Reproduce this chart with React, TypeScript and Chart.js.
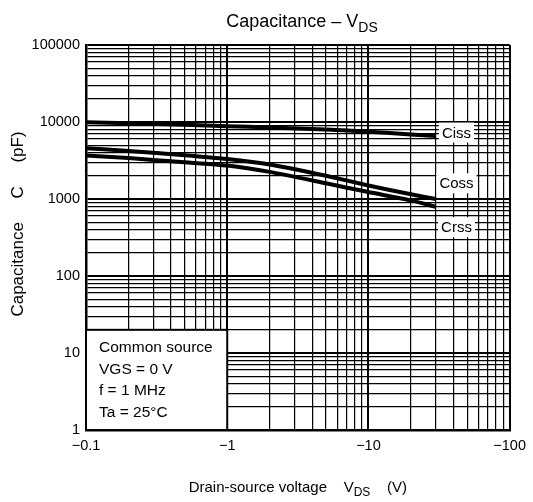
import React, { useEffect, useRef } from "react";
import { Chart, registerables } from "chart.js";

Chart.register(...registerables);

// ---- data ----
const vds = [0.1, 0.2, 0.5, 1, 2, 5, 10, 20, 30];
const ciss = [9900, 9600, 9200, 8800, 8500, 8000, 7450, 6900, 6600];
const coss = [4560, 4200, 3700, 3300, 2800, 2000, 1500, 1150, 1000];
const crss = [3680, 3400, 3000, 2720, 2250, 1600, 1230, 960, 790];
const seriesNames = ["Ciss", "Coss", "Crss"];
const seriesLabelV = [42, 42, 42];
const seriesLabelC = [7300, 1600, 430];

const xTickValues = [0.1, 1, 10, 100];
const xTickLabels = ["\u22120.1", "\u22121", "\u221210", "\u2212100"];
const yTickValues = [1, 10, 100, 1000, 10000, 100000];
const yTickLabels = ["1", "10", "100", "1000", "10000", "100000"];

const conditions = ["Common source", "VGS = 0 V", "f = 1 MHz", "Ta = 25\u00b0C"];
const conditionBox = { v0: 0.1, v1: 1, c0: 1, c1: 20 };

const FONT = "'Liberation Sans', Arial, Helvetica, sans-serif";

function logGrid(min: number, max: number) {
  const out: number[] = [];
  for (let e = Math.round(Math.log10(min)); e < Math.round(Math.log10(max)); e++) {
    for (let m = 1; m <= 9; m++) out.push(m * Math.pow(10, e));
  }
  out.push(max);
  return out;
}
const isDecade = (v: number) => Math.abs(Math.log10(v) - Math.round(Math.log10(v))) < 1e-6;

function labelFor(values: number[], labels: string[], v: number) {
  const i = values.findIndex((t) => Math.abs(t - v) / t < 1e-6);
  return i >= 0 ? labels[i] : "";
}

const annotPlugin = {
  id: "annot",
  afterDatasetsDraw(chart: any) {
    const ctx = chart.ctx as CanvasRenderingContext2D;
    const xs = chart.scales.x;
    const ys = chart.scales.y;
    ctx.save();
    ctx.font = `15px ${FONT}`;
    ctx.textBaseline = "middle";
    ctx.textAlign = "center";
    seriesNames.forEach((n, i) => {
      const px = xs.getPixelForValue(seriesLabelV[i]);
      const py = ys.getPixelForValue(seriesLabelC[i]);
      const w = ctx.measureText(n).width + 6;
      ctx.fillStyle = "#fff";
      ctx.fillRect(px - w / 2, py - 10, w, 20);
      ctx.fillStyle = "#000";
      ctx.fillText(n, px, py + 1);
    });
    const bx0 = xs.getPixelForValue(conditionBox.v0);
    const bx1 = xs.getPixelForValue(conditionBox.v1);
    const by0 = ys.getPixelForValue(conditionBox.c1);
    const by1 = ys.getPixelForValue(conditionBox.c0);
    ctx.fillStyle = "#fff";
    ctx.fillRect(bx0, by0, bx1 - bx0, by1 - by0);
    ctx.strokeStyle = "#000";
    ctx.lineWidth = 2;
    ctx.strokeRect(bx0, by0, bx1 - bx0, by1 - by0);
    ctx.fillStyle = "#000";
    ctx.textAlign = "left";
    ctx.font = `15.5px ${FONT}`;
    conditions.forEach((t, i) => {
      ctx.fillText(t, bx0 + 13, by0 + 18 + i * 21.5);
    });
    ctx.restore();
  },
  afterDraw(chart: any) {
    const ctx = chart.ctx as CanvasRenderingContext2D;
    const area = chart.chartArea;
    ctx.save();
    ctx.fillStyle = "#000";
    ctx.textBaseline = "alphabetic";
    ctx.textAlign = "left";
    const drawSub = (parts: { t: string; sub?: boolean }[], cx: number, baseY: number, size: number) => {
      const subSize = Math.round(size * 0.8);
      let total = 0;
      parts.forEach((p) => {
        ctx.font = `${p.sub ? subSize : size}px ${FONT}`;
        total += ctx.measureText(p.t).width;
      });
      let x = cx - total / 2;
      parts.forEach((p) => {
        ctx.font = `${p.sub ? subSize : size}px ${FONT}`;
        ctx.fillText(p.t, x, baseY + (p.sub ? size * 0.25 : 0));
        x += ctx.measureText(p.t).width;
      });
    };
    drawSub([{ t: "Capacitance \u2013 V" }, { t: "DS", sub: true }], 302, 27, 18);
    drawSub(
      [{ t: "Drain-source voltage    V" }, { t: "DS", sub: true }, { t: "    (V)" }],
      (area.left + area.right) / 2,
      492,
      15
    );
    ctx.translate(23, 224);
    ctx.rotate(-Math.PI / 2);
    ctx.textAlign = "center";
    ctx.font = `17px ${FONT}`;
    ctx.fillText("Capacitance     C     (pF)", 0, 0);
    ctx.restore();
  },
};

export default function App() {
  const ref = useRef<HTMLCanvasElement>(null);
  useEffect(() => {
    if (!ref.current) return;
    const mk = (ys: number[]) => vds.map((v, i) => ({ x: v, y: ys[i] }));
    const chart = new Chart(ref.current, {
      type: "line",
      data: {
        datasets: [ciss, coss, crss].map((s, i) => ({
          label: seriesNames[i],
          data: mk(s),
          borderColor: "#000",
          borderWidth: 4,
          pointRadius: 0,
          tension: 0.2,
          fill: false,
        })),
      },
      options: {
        responsive: false,
        animation: false,
        layout: { padding: { left: 0, right: 19, top: 45, bottom: 0 } },
        plugins: { legend: { display: false }, title: { display: false }, tooltip: { enabled: false } },
        scales: {
          x: {
            type: "logarithmic",
            min: 0.1,
            max: 100,
            afterBuildTicks: (s: any) => {
              s.ticks = logGrid(0.1, 100).map((v) => ({ value: v }));
            },
            afterFit: (s: any) => {
              s.height = 72;
            },
            ticks: {
              autoSkip: false,
              maxRotation: 0,
              padding: 7,
              color: "#000",
              font: { family: FONT, size: 14.5 },
              callback: (v: any) => labelFor(xTickValues, xTickLabels, Number(v)),
            },
            grid: {
              color: "#000",
              drawTicks: false,
              lineWidth: (c: any) => (c.tick && isDecade(c.tick.value) ? 2 : 1.2),
            },
            border: { color: "#000", width: 2.5 },
          },
          y: {
            type: "logarithmic",
            min: 1,
            max: 100000,
            afterBuildTicks: (s: any) => {
              s.ticks = logGrid(1, 100000).map((v) => ({ value: v }));
            },
            afterFit: (s: any) => {
              s.width = 86;
            },
            ticks: {
              autoSkip: false,
              padding: 6,
              color: "#000",
              font: { family: FONT, size: 14.5 },
              callback: (v: any) => labelFor(yTickValues, yTickLabels, Number(v)),
            },
            grid: {
              color: "#000",
              drawTicks: false,
              lineWidth: (c: any) => (c.tick && isDecade(c.tick.value) ? 2 : 1.2),
            },
            border: { color: "#000", width: 2.5 },
          },
        },
      },
      plugins: [annotPlugin],
    });
    return () => chart.destroy();
  }, []);
  return (
    <div style={{ position: "absolute", left: 0, top: 0, width: 533, height: 502, background: "#fff" }}>
      <canvas ref={ref} width={533} height={502} style={{ width: 533, height: 502 }} />
    </div>
  );
}
